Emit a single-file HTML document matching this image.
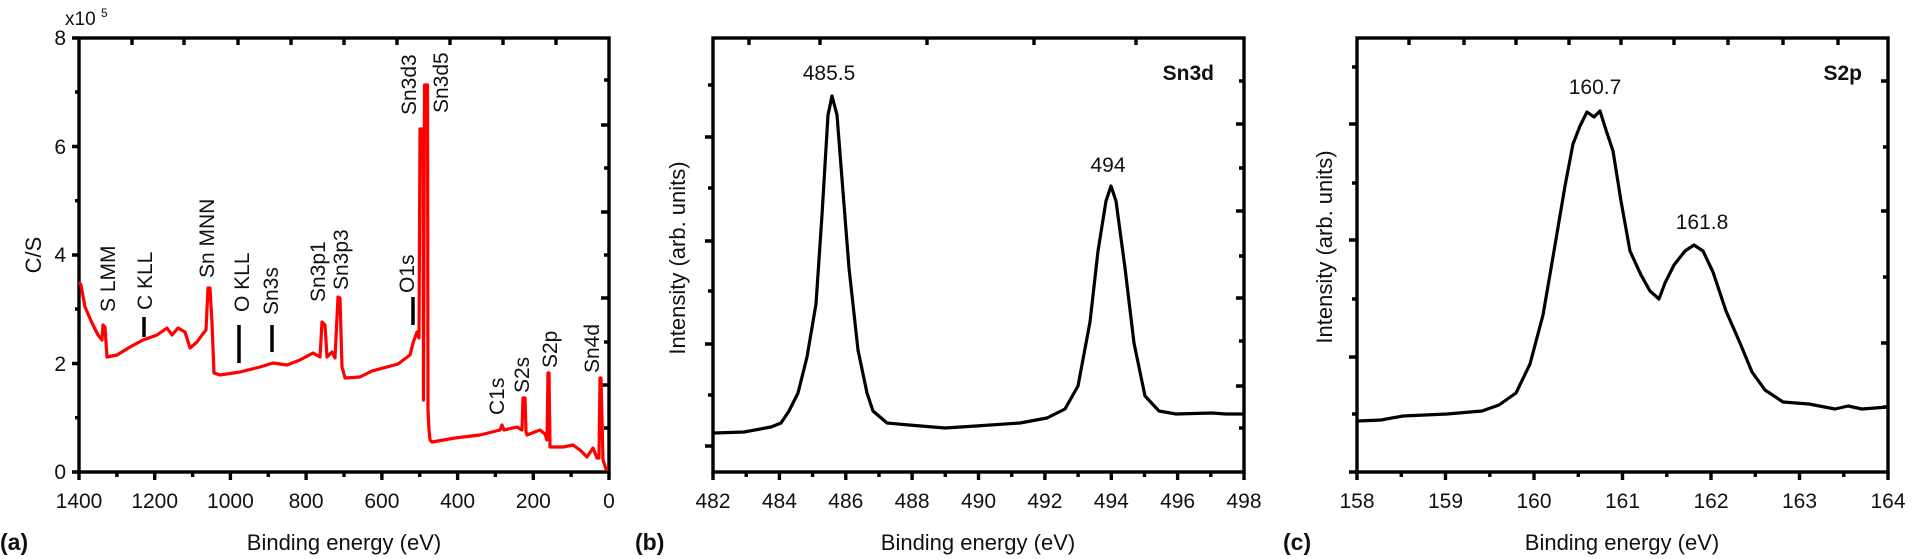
<!DOCTYPE html>
<html><head><meta charset="utf-8"><style>
html,body{margin:0;padding:0;background:#fff;}
svg{display:block;font-family:"Liberation Sans",Arial,sans-serif;}
</style></head><body>
<svg width="1913" height="559" viewBox="0 0 1913 559" xmlns="http://www.w3.org/2000/svg">
<g font-size="21" fill="#111">
<!-- ===== Panel A ===== -->
<g stroke="#000" stroke-width="3.4" fill="none">
<rect x="79" y="38" width="530" height="434"/>
<path d="M72 472H79M72 363.5H79M72 255H79M72 146.5H79M72 38H79M75 417.7H79M75 309H79M75 200.7H79M75 92H79"/>
<path d="M79 472V480M154.7 472V480M230.4 472V480M306.1 472V480M381.9 472V480M457.6 472V480M533.3 472V480M609 472V480"/>
<path d="M116.9 472V477M192.6 472V477M268.3 472V477M344 472V477M419.7 472V477M495.4 472V477M571.1 472V477"/>
<path d="M132 38V45M184 38V45M238 38V45M291 38V45M344 38V45M397 38V45M450 38V45M503 38V45M556 38V45"/>
<path d="M609 80H604M609 125H601M609 168H604M609 212H601M609 255H604M609 298H601M609 342H604M609 385H601M609 428H604"/>
</g>
<g stroke="#000" stroke-width="3.5">
<path d="M144 317V337M239 325V363M272 325V352M413 297V325"/>
</g>
<polyline fill="none" stroke="#f00" stroke-width="3.2" stroke-linejoin="round" points="79,282 81,285 85,307 92,323 98,335 102,340 103,325 105,327 107,357 117,355 130,347 143,340 157,335 167,328 172,335 178,328 185,332 190,348 197,342 202,335 206,330 208,288 210,288 212,323 214,373 220,375 240,372 260,367 273,363 287,365 300,360 313,353 320,357 322,322 325,325 327,357 332,352 335,358 338,297 340,298 342,367 345,378 360,377 372,371 398,364 410,355 413,343 417,332 419,338 420,129 423,129 423.5,400 424.5,85 427.5,85 428,410 429,430 430,440 432,442 455,438 480,435 500,430 502,425 504,430 517,427 522,430 523,398 525,398 526,432 527,435 540,430 545,434 547,440 548,373 549,373 550,447 563,447 573,445 580,450 587,457 593,448 597,458 599,458 600,378 601,378 603,460 606,469 608,470"/>
<g text-anchor="end">
<text x="66" y="479">0</text><text x="66" y="371">2</text><text x="66" y="262">4</text><text x="66" y="154">6</text><text x="66" y="45">8</text>
</g>
<text x="65" y="25" font-size="19">x10</text><text x="101" y="17" font-size="12">5</text>
<g text-anchor="middle">
<text x="79" y="508">1400</text><text x="154.7" y="508">1200</text><text x="230.4" y="508">1000</text><text x="306.1" y="508">800</text><text x="381.9" y="508">600</text><text x="457.6" y="508">400</text><text x="533.3" y="508">200</text><text x="609" y="508">0</text>
<text x="344" y="550" font-size="22">Binding energy (eV)</text>
</g>
<text transform="translate(41,255) rotate(-90)" text-anchor="middle" font-size="22">C/S</text>
<text x="0" y="550" font-size="23" font-weight="bold">(a)</text>
<g font-size="21">
<text transform="translate(115,312) rotate(-90)">S LMM</text>
<text transform="translate(152,310) rotate(-90)">C KLL</text>
<text transform="translate(214,278) rotate(-90)">Sn MNN</text>
<text transform="translate(249,312) rotate(-90)">O KLL</text>
<text transform="translate(278,315) rotate(-90)">Sn3s</text>
<text transform="translate(325,302) rotate(-90)">Sn3p1</text>
<text transform="translate(348,290) rotate(-90)">Sn3p3</text>
<text transform="translate(414,293) rotate(-90)">O1s</text>
<text transform="translate(416,115) rotate(-90)">Sn3d3</text>
<text transform="translate(448,113) rotate(-90)">Sn3d5</text>
<text transform="translate(504,415) rotate(-90)">C1s</text>
<text transform="translate(529,393) rotate(-90)">S2s</text>
<text transform="translate(557,368) rotate(-90)">S2p</text>
<text transform="translate(599,373) rotate(-90)">Sn4d</text>
</g>

<!-- ===== Panel B ===== -->
<g stroke="#000" stroke-width="3.4" fill="none">
<rect x="713" y="38" width="531" height="434"/>
<path d="M705 137H713M705 241H713M705 344H713M705 446H713M708 85H713M708 188H713M708 291H713M708 395H713"/>
<path d="M713 472V480M779.4 472V480M845.8 472V480M912.1 472V480M978.5 472V480M1044.9 472V480M1111.3 472V480M1177.6 472V480M1244 472V480"/>
<path d="M746.2 472V477M812.6 472V477M879 472V477M945.3 472V477M1011.7 472V477M1078.1 472V477M1144.5 472V477M1210.8 472V477"/>
<path d="M749 38V45M820 38V45M927 38V45M1034 38V45M1136 38V45"/>
<path d="M1244 81H1239M1244 124H1236M1244 168H1239M1244 211H1236M1244 256H1239M1244 298H1236M1244 341H1239M1244 386H1236M1244 428H1239"/>
</g>
<polyline fill="none" stroke="#000" stroke-width="3.2" stroke-linejoin="round" points="714,433 744,432 771,427 781,423 789,411 798,393 807,357 816,304 822,215 828,115 832,96 837,115 842,179 849,268 858,350 867,393 873,411 887,423 909,425 945,428 976,426 1020,423 1047,418 1065,409 1078,386 1090,322 1098,251 1106,201 1111,186 1116,201 1125,268 1134,343 1145,396 1159,411 1176,414 1212,413 1226,414 1243,414"/>
<g text-anchor="middle">
<text x="713" y="508">482</text><text x="779.4" y="508">484</text><text x="845.8" y="508">486</text><text x="912.1" y="508">488</text><text x="978.5" y="508">490</text><text x="1044.9" y="508">492</text><text x="1111.3" y="508">494</text><text x="1177.6" y="508">496</text><text x="1244" y="508">498</text>
<text x="978" y="550" font-size="22">Binding energy (eV)</text>
<text x="829" y="80">485.5</text>
<text x="1108" y="172">494</text>
</g>
<text x="1214" y="80" text-anchor="end" font-weight="bold">Sn3d</text>
<text transform="translate(685,258) rotate(-90)" text-anchor="middle" font-size="22">Intensity (arb. units)</text>
<text x="635" y="550" font-size="23" font-weight="bold">(b)</text>

<!-- ===== Panel C ===== -->
<g stroke="#000" stroke-width="3.4" fill="none">
<rect x="1357" y="38" width="531" height="434"/>
<path d="M1349 124H1357M1349 240H1357M1349 357H1357M1349 472H1357M1352 67H1357M1352 183H1357M1352 299H1357M1352 414H1357"/>
<path d="M1357 472V480M1445.5 472V480M1534 472V480M1622.5 472V480M1711 472V480M1799.5 472V480M1888 472V480"/>
<path d="M1401.3 472V477M1489.8 472V477M1578.3 472V477M1666.8 472V477M1755.3 472V477M1843.8 472V477"/>
<path d="M1409 38V45M1464 38V45M1516 38V45M1569 38V45M1621 38V45M1674 38V45M1728 38V45M1783 38V45M1838 38V45"/>
<path d="M1888 81H1881M1888 147H1883M1888 211H1881M1888 277H1883M1888 343H1881M1888 407H1883"/>
</g>
<polyline fill="none" stroke="#000" stroke-width="3.2" stroke-linejoin="round" points="1358,421 1381,420 1403,416 1447,414 1482,411 1499,405 1516,393 1530,364 1543,315 1554,251 1565,186 1573,144 1580,126 1587,112 1594,117 1600,111 1606,130 1613,151 1621,201 1630,251 1641,275 1650,291 1659,299 1665,283 1674,265 1685,251 1694,245 1703,251 1713,272 1726,311 1740,343 1752,372 1765,390 1783,402 1809,404 1835,409 1848,406 1862,409 1888,407"/>
<g text-anchor="middle">
<text x="1357" y="508">158</text><text x="1445.5" y="508">159</text><text x="1534" y="508">160</text><text x="1622.5" y="508">161</text><text x="1711" y="508">162</text><text x="1799.5" y="508">163</text><text x="1888" y="508">164</text>
<text x="1622" y="550" font-size="22">Binding energy (eV)</text>
<text x="1595" y="94">160.7</text>
<text x="1702" y="229">161.8</text>
</g>
<text x="1862" y="80" text-anchor="end" font-weight="bold">S2p</text>
<text transform="translate(1332,247) rotate(-90)" text-anchor="middle" font-size="22">Intensity (arb. units)</text>
<text x="1283" y="550" font-size="23" font-weight="bold">(c)</text>
</g>
</svg>
</body></html>
